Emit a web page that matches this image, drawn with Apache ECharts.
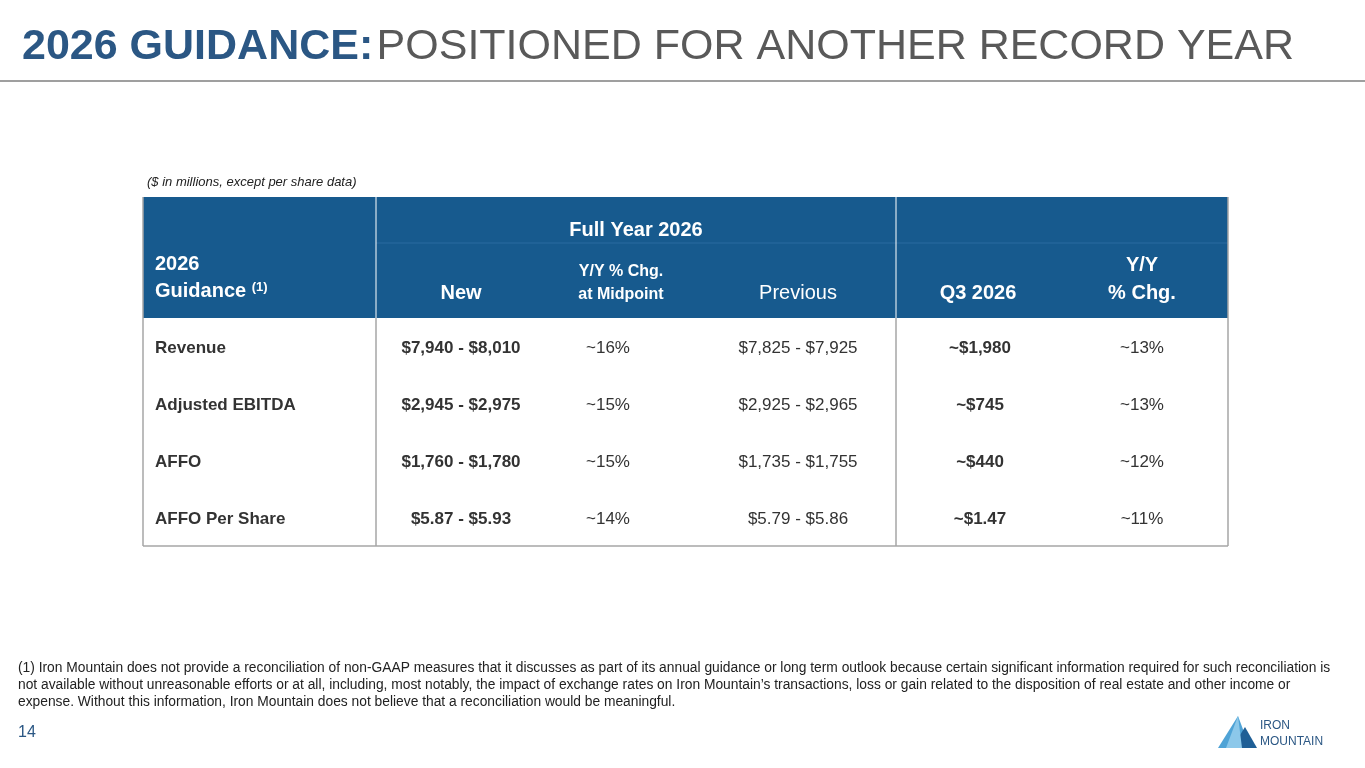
<!DOCTYPE html>
<html><head><meta charset="utf-8">
<script src="https://cdn.jsdelivr.net/npm/echarts@6.0.0/dist/echarts.min.js"></script>
<style>html,body{margin:0;padding:0;background:#fff}#c{width:1365px;height:768px}</style>
</head><body><div id="c"></div>
<script>
// ===== data =====
const rowLabels = ['Revenue', 'Adjusted EBITDA', 'AFFO', 'AFFO Per Share'];
const newRange = ['$7,940 - $8,010', '$2,945 - $2,975', '$1,760 - $1,780', '$5.87 - $5.93'];
const yyMid = ['~16%', '~15%', '~15%', '~14%'];
const prevRange = ['$7,825 - $7,925', '$2,925 - $2,965', '$1,735 - $1,755', '$5.79 - $5.86'];
const q3 = ['~$1,980', '~$745', '~$440', '~$1.47'];
const q3Chg = ['~13%', '~13%', '~12%', '~11%'];

const chart = echarts.init(document.getElementById('c'));
const F = '"Liberation Sans", Arial, sans-serif';
const blue = '#175a8e';
const g = [];

function txt(x, y, s, o) {
  g.push({ type: 'text', x: x, y: y, style: Object.assign({
    text: s, font: '17px ' + F, fill: '#333', align: 'center', verticalAlign: 'middle' }, o || {}) });
}
function line(x1, y1, x2, y2, c, w) {
  g.push({ type: 'line', shape: { x1, y1, x2, y2 }, style: { stroke: c, lineWidth: w || 1 } });
}

// title
g.push({ type: 'text', x: 22, y: 47, style: { rich: {
  a: { font: 'bold 43px ' + F, fill: '#2b5784' },
  b: { font: '43px ' + F, fill: '#595959' } },
  text: '{a|2026 GUIDANCE:} {b|POSITIONED FOR ANOTHER RECORD YEAR}', verticalAlign: 'middle' } });
line(0, 81, 1365, 81, '#7f7f7f', 1.5);

txt(147, 182, '($ in millions, except per share data)', { font: 'italic 13px ' + F, align: 'left', fill: '#222' });

// header
g.push({ type: 'rect', shape: { x: 143, y: 197, width: 1085, height: 121 }, style: { fill: blue } });
line(376, 243, 1228, 243, '#2a6aa0', 1);
line(376, 197, 376, 318, '#ffffff', 1);
line(896, 197, 896, 318, '#ffffff', 1);
const W = '#ffffff';
txt(636, 230, 'Full Year 2026', { font: 'bold 20px ' + F, fill: W });
txt(155, 264, '2026', { font: 'bold 20px ' + F, fill: W, align: 'left' });
g.push({ type: 'text', x: 155, y: 291, style: { rich: {
  a: { font: 'bold 20px ' + F, fill: W }, s: { font: 'bold 13px ' + F, fill: W, verticalAlign: 'top', padding: [0, 0, 8, 0] } },
  text: '{a|Guidance }{s|(1)}', verticalAlign: 'middle' } });
txt(461, 293, 'New', { font: 'bold 20px ' + F, fill: W });
txt(621, 272, 'Y/Y % Chg.', { font: 'bold 16px ' + F, fill: W });
txt(621, 295, 'at Midpoint', { font: 'bold 16px ' + F, fill: W });
txt(798, 293, 'Previous', { font: '20px ' + F, fill: W });
txt(978, 293, 'Q3 2026', { font: 'bold 20px ' + F, fill: W });
txt(1142, 265, 'Y/Y', { font: 'bold 20px ' + F, fill: W });
txt(1142, 293, '% Chg.', { font: 'bold 20px ' + F, fill: W });

// body
line(143, 197, 143, 546, '#a6a6a6', 1.5);
line(1228, 197, 1228, 546, '#a6a6a6', 1.5);
line(376, 318, 376, 546, '#a6a6a6', 1.5);
line(896, 318, 896, 546, '#a6a6a6', 1.5);
line(143, 546, 1228, 546, '#a6a6a6', 1.5);
rowLabels.forEach((r, i) => {
  const y = 348 + i * 57;
  txt(155, y, r, { font: 'bold 17px ' + F, align: 'left' });
  txt(461, y, newRange[i], { font: 'bold 17px ' + F });
  txt(608, y, yyMid[i]);
  txt(798, y, prevRange[i]);
  txt(980, y, q3[i], { font: 'bold 17px ' + F });
  txt(1142, y, q3Chg[i]);
});

// footnote
['(1) Iron Mountain does not provide a reconciliation of non-GAAP measures that it discusses as part of its annual guidance or long term outlook because certain significant information required for such reconciliation is',
 'not available without unreasonable efforts or at all, including, most notably, the impact of exchange rates on Iron Mountain’s transactions, loss or gain related to the disposition of real estate and other income or',
 'expense. Without this information, Iron Mountain does not believe that a reconciliation would be meaningful.'
].forEach((s, i) => txt(18, 668 + i * 17, s, { font: '13.8px ' + F, align: 'left', fill: '#222' }));
txt(18, 733, '14', { font: '16px ' + F, align: 'left', fill: '#2b5784' });

// logo
g.push({ type: 'polygon', shape: { points: [[1218, 748], [1238, 716], [1250, 748]] }, style: { fill: '#4fa3d6' } });
g.push({ type: 'polygon', shape: { points: [[1232, 748], [1245, 727], [1257, 748]] }, style: { fill: '#1f5f96' } });
g.push({ type: 'polygon', shape: { points: [[1226, 748], [1238, 716], [1242, 748]] }, style: { fill: '#8cc8ea' } });
txt(1260, 726, 'IRON', { font: '12px ' + F, align: 'left', fill: '#2b5784' });
txt(1260, 742, 'MOUNTAIN', { font: '12px ' + F, align: 'left', fill: '#2b5784' });

chart.setOption({ graphic: { elements: g } });
</script></body></html>
